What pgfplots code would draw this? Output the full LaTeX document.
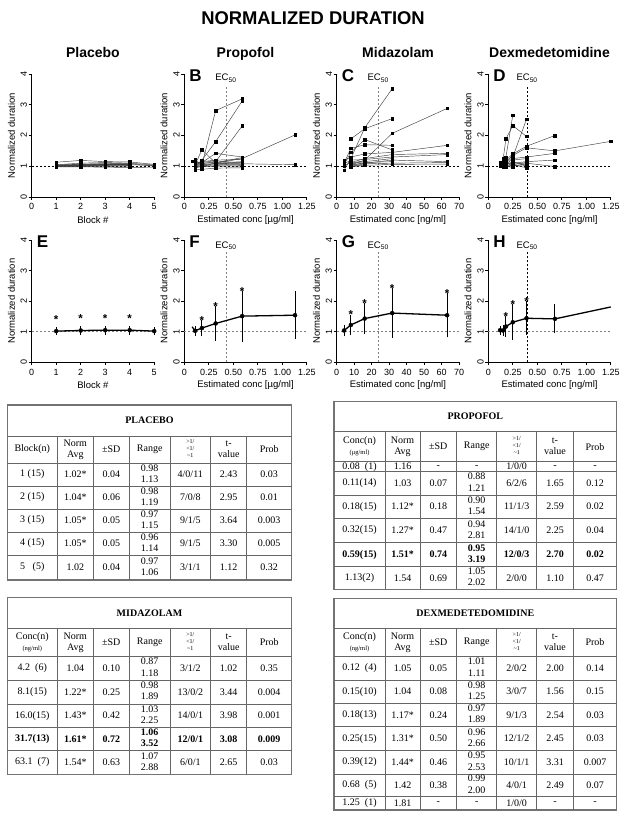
\documentclass[border=0pt]{standalone}
\usepackage{pgfplots}
\pgfplotsset{compat=1.18}
\usepackage{fontspec}
\setmainfont{Liberation Serif}
\newfontfamily\arial{Liberation Sans}
\newcommand\two[2]{\begin{tabular}{@{}c@{}}#1\\#2\end{tabular}}
\newcommand\hdr{{\fontsize{6}{7}\selectfont\begin{tabular}{@{}c@{}}>1/\\<1/\\\textasciitilde1\end{tabular}}}
\newcommand\unit[1]{{\fontsize{6.5}{7}\selectfont #1}}
\tikzset{cellf/.style={inner sep=0pt, font=\fontsize{10}{11.3}\selectfont},
  tabo/.style={black!55, line width=1.1pt},
  tabi/.style={black!60, line width=0.7pt}}
\newcommand\rowL[9][]{%
 \node[cellf,#1] at (32.3,817-#2) {#3};
 \node[cellf,#1] at (75.3,817-#2) {#4};
 \node[cellf,#1] at (111.3,817-#2) {#5};
 \node[cellf,#1] at (149.7,817-#2) {#6};
 \node[cellf,#1] at (190.3,817-#2) {#7};
 \node[cellf,#1] at (228.7,817-#2) {#8};
 \node[cellf,#1] at (269.2,817-#2) {#9};}
\newcommand\rowR[9][]{%
 \node[cellf,#1] at (359.5,817-#2) {#3};
 \node[cellf,#1] at (402.5,817-#2) {#4};
 \node[cellf,#1] at (438.3,817-#2) {#5};
 \node[cellf,#1] at (476.7,817-#2) {#6};
 \node[cellf,#1] at (516.7,817-#2) {#7};
 \node[cellf,#1] at (555,817-#2) {#8};
 \node[cellf,#1] at (595,817-#2) {#9};}
\pgfplotsset{
  pan/.style={
    scale only axis, width=122.5pt, height=123pt, anchor=south west,
    ymin=0, ymax=4, ytick={0,1,2,3,4},
    axis x line*=bottom, axis y line*=left,
    axis line style={-, line width=0.8pt, black},
    x axis line style={-}, y axis line style={-},
    tick align=outside, major tick length=3pt,
    tick style={black, line width=0.8pt},
    clip=false,
    /pgf/number format/assume math mode=true,
    tick label style={font=\arial\fontsize{9}{9}\selectfont},
    yticklabel style={rotate=90, anchor=south, inner sep=1.5pt},
    label style={font=\arial\fontsize{9.5}{10}\selectfont},
    ylabel={Normalized duration},
    ylabel style={at={(axis description cs:-0.165,0.5)}, anchor=center},
    xlabel style={at={(axis description cs:0.5,-0.185)}, anchor=center},
  },
  blockx/.style={xmin=0, xmax=5, xtick={0,1,2,3,4,5}, xlabel={Block \#}},
  ugx/.style={xmin=0, xmax=1.25, xtick={0,0.25,0.5,0.75,1,1.25}, xticklabels={0,0.25,0.50,0.75,1.00,1.25}, xlabel={Estimated conc [µg/ml]}},
  ngx/.style={xmin=0, xmax=70, xtick={0,10,20,30,40,50,60,70}, xlabel={Estimated conc [ng/ml]}},
  dngx/.style={xmin=0, xmax=1.25, xtick={0,0.25,0.5,0.75,1,1.25}, xticklabels={0,0.25,0.50,0.75,1.00,1.25}, xlabel={Estimated conc [ng/ml]}},
  subj/.style={black!75, line width=0.45pt, mark=square*, mark size=1.25pt, mark options={black,solid}},
  meanl/.style={black, line width=1.3pt, mark=none},
  ebar/.style={only marks, mark=none, error bars/.cd, y dir=both, y explicit, error bar style={black, line width=1pt}, error mark options={black, mark size=2.8pt, line width=1pt}},
  star/.style={only marks, mark=text, text mark={*}, text mark as node=true, text mark style={font=\arial\bfseries\fontsize{11.5}{11.5}\selectfont, inner sep=0pt}},
  oneline/.style={black, line width=0.5pt, dash pattern=on 2pt off 2pt, forget plot},
  onegray/.style={black!50, line width=0.6pt, dash pattern=on 2pt off 2pt, forget plot},
}
\newcommand\letter[1]{\node[font=\arial\bfseries\fontsize{17}{17}\selectfont, anchor=west, inner sep=0pt] at (rel axis cs:0.04,0.985) {#1};}
\newcommand\ec[2]{\node[font=\arial\fontsize{9.5}{10}\selectfont] at (axis cs:#1,#2) {EC\textsubscript{50}};}
\begin{document}
\begin{tikzpicture}
\fill[white] (0,0) rectangle (626pt,817pt);
\useasboundingbox (0,0) rectangle (626pt,817pt);

\begin{scope}[x=1pt,y=1pt]
\node[font=\arial\bfseries\fontsize{18.4}{19}\selectfont, anchor=base] at (313,817-24.6) {NORMALIZED DURATION};
\node[font=\arial\bfseries\fontsize{14}{14}\selectfont, anchor=base] at (92.9,817-57.8) {Placebo};
\node[font=\arial\bfseries\fontsize{14}{14}\selectfont, anchor=base] at (245.5,817-57.8) {Propofol};
\node[font=\arial\bfseries\fontsize{14}{14}\selectfont, anchor=base] at (398,817-57.8) {Midazolam};
\node[font=\arial\bfseries\fontsize{14}{14}\selectfont, anchor=base] at (549.5,817-57.8) {Dexmedetomidine};
\end{scope}

% ---------------- Row 1 ----------------
\begin{axis}[pan, blockx, at={(31.7pt,620pt)}]
\addplot[oneline] coordinates {(0,1) (5,1)};
\addplot[subj] coordinates {(1,1.13)(2,1.19)(3,1.15)(4,1.14)(5,1.06)};
\addplot[subj] coordinates {(1,1.02)(2,1.05)(3,1.06)(4,1.05)(5,1.02)};
\addplot[subj] coordinates {(1,0.98)(2,0.98)(3,0.97)(4,0.96)(5,0.97)};
\addplot[subj] coordinates {(1,1.00)(2,1.02)(3,1.05)(4,1.08)(5,1.01)};
\addplot[subj] coordinates {(1,1.05)(2,1.10)(3,1.12)(4,1.10)(5,1.04)};
\addplot[subj] coordinates {(1,1.01)(2,1.03)(3,1.04)(4,1.06)};
\addplot[subj] coordinates {(1,0.99)(2,1.00)(3,1.02)(4,1.00)};
\addplot[subj] coordinates {(1,1.03)(2,1.06)(3,1.08)(4,1.07)};
\addplot[subj] coordinates {(1,1.00)(2,1.01)(3,1.03)(4,1.04)};
\addplot[subj] coordinates {(1,1.02)(2,1.04)(3,1.06)(4,1.05)};
\addplot[subj] coordinates {(1,1.00)(2,1.02)(3,1.04)(4,1.03)};
\addplot[subj] coordinates {(1,1.01)(2,1.03)(3,1.05)(4,1.06)};
\addplot[subj] coordinates {(1,1.04)(2,1.07)(3,1.08)(4,1.09)};
\addplot[subj] coordinates {(1,1.00)(2,1.00)(3,0.99)(4,1.02)};
\addplot[subj] coordinates {(1,1.02)(2,1.03)(3,1.05)(4,1.04)};
\end{axis}

\begin{axis}[pan, ugx, at={(184.3pt,620pt)}]
\addplot[oneline] coordinates {(0,1) (1.25,1)};
\addplot[onegray] coordinates {(0.425,0) (0.425,3.62)};
\addplot[subj] coordinates {(0.11,1.02)(0.18,1.05)(0.32,2.81)(0.59,3.19)};
\addplot[subj] coordinates {(0.11,1.00)(0.18,1.20)(0.32,1.80)(0.59,3.12)};
\addplot[subj] coordinates {(0.11,1.05)(0.18,1.08)(0.32,1.15)(0.59,2.31)};
\addplot[subj] coordinates {(0.11,1.05)(0.18,1.54)(0.32,1.10)(0.59,1.25)(1.13,2.02)};
\addplot[subj] coordinates {(0.11,1.10)(0.18,1.12)(0.32,1.42)(0.59,1.30)};
\addplot[subj] coordinates {(0.11,0.95)(0.18,1.00)(0.32,1.10)(0.59,1.08)(1.13,1.05)};
\addplot[subj] coordinates {(0.08,1.16)(0.18,1.10)(0.32,1.12)(0.59,1.28)};
\addplot[subj] coordinates {(0.11,0.88)(0.18,0.90)(0.32,0.94)(0.59,0.95)};
\addplot[subj] coordinates {(0.11,1.00)(0.18,1.02)(0.32,1.05)(0.59,1.05)};
\addplot[subj] coordinates {(0.11,1.03)(0.18,1.06)(0.32,1.08)(0.59,1.12)};
\addplot[subj] coordinates {(0.11,0.98)(0.18,1.00)(0.32,1.02)(0.59,1.00)};
\addplot[subj] coordinates {(0.11,1.08)(0.18,1.15)(0.32,1.20)(0.59,1.22)};
\addplot[subj] coordinates {(0.11,1.21)(0.18,1.04)(0.32,1.10)(0.59,1.15)};
\addplot[subj] coordinates {(0.11,0.97)(0.18,0.98)(0.32,1.00)(0.59,1.02)};
\addplot[subj] coordinates {(0.11,1.06)(0.18,1.12)(0.32,1.18)(0.59,1.10)};
\letter{B}
\ec{0.425}{3.87}
\end{axis}

\begin{axis}[pan, ngx, at={(336.7pt,620pt)}]
\addplot[oneline] coordinates {(0,1) (70,1)};
\addplot[onegray] coordinates {(23.7,0) (23.7,3.62)};
\addplot[subj] coordinates {(4.2,0.87)(8.1,1.25)(16,2.25)(31.7,3.52)};
\addplot[subj] coordinates {(8.1,1.89)(16,2.22)(31.7,2.55)};
\addplot[subj] coordinates {(8.1,1.05)(16,1.20)(31.7,2.07)(63.1,2.88)};
\addplot[subj] coordinates {(4.2,1.05)(8.1,1.45)(16,1.87)(31.7,1.53)};
\addplot[subj] coordinates {(4.2,1.10)(8.1,1.58)(16,1.70)(31.7,1.68)};
\addplot[subj] coordinates {(4.2,1.18)(8.1,1.30)(16,1.40)(31.7,1.45)(63.1,1.68)};
\addplot[subj] coordinates {(4.2,1.02)(8.1,1.12)(16,1.25)(31.7,1.38)(63.1,1.42)};
\addplot[subj] coordinates {(4.2,1.08)(8.1,1.20)(16,1.22)(31.7,1.30)(63.1,1.38)};
\addplot[subj] coordinates {(8.1,1.05)(16,1.10)(31.7,1.20)(63.1,1.15)};
\addplot[subj] coordinates {(8.1,1.00)(16,1.08)(31.7,1.10)(63.1,1.12)};
\addplot[subj] coordinates {(8.1,0.98)(16,1.03)(31.7,1.06)(63.1,1.07)};
\addplot[subj] coordinates {(8.1,1.08)(16,1.15)(31.7,1.25)};
\addplot[subj] coordinates {(8.1,1.02)(16,1.12)(31.7,1.15)};
\addplot[subj] coordinates {(8.1,1.10)(16,1.18)};
\addplot[subj] coordinates {(8.1,1.00)(16,1.05)};
\letter{C}
\ec{23.7}{3.87}
\end{axis}

\begin{axis}[pan, dngx, at={(488.3pt,620pt)}]
\addplot[oneline] coordinates {(0,1) (1.25,1)};
\addplot[oneline] coordinates {(0.396,0) (0.396,3.62)};
\addplot[subj] coordinates {(0.15,1.10)(0.18,1.30)(0.25,2.66)};
\addplot[subj] coordinates {(0.12,1.05)(0.15,1.20)(0.18,1.89)(0.25,2.32)(0.39,1.97)};
\addplot[subj] coordinates {(0.18,1.10)(0.25,1.30)(0.39,2.53)};
\addplot[subj] coordinates {(0.12,1.11)(0.15,1.05)(0.18,1.20)(0.25,1.40)(0.39,1.65)(0.68,2.00)};
\addplot[subj] coordinates {(0.15,1.00)(0.18,1.15)(0.25,1.35)(0.39,1.60)(0.68,1.50)(1.25,1.81)};
\addplot[subj] coordinates {(0.12,1.02)(0.15,1.00)(0.18,1.05)(0.25,1.25)(0.39,1.30)(0.68,1.42)};
\addplot[subj] coordinates {(0.15,0.98)(0.18,1.00)(0.25,1.10)(0.39,1.15)(0.68,1.20)};
\addplot[subj] coordinates {(0.15,1.05)(0.18,1.08)(0.25,1.10)(0.39,1.10)(0.68,0.99)};
\addplot[subj] coordinates {(0.12,1.01)(0.15,1.02)(0.18,1.05)(0.25,1.15)(0.39,1.00)};
\addplot[subj] coordinates {(0.15,1.25)(0.18,0.97)(0.25,1.05)(0.39,0.95)};
\addplot[subj] coordinates {(0.18,1.02)(0.25,1.00)(0.39,1.08)};
\addplot[subj] coordinates {(0.18,1.10)(0.25,1.05)(0.39,1.12)};
\addplot[subj] coordinates {(0.18,1.00)(0.25,0.96)};
\addplot[subj] coordinates {(0.25,1.02)(0.39,1.05)};
\addplot[subj] coordinates {(0.25,1.20)(0.39,1.25)};
\letter{D}
\ec{0.396}{3.87}
\end{axis}

% ---------------- Row 2 ----------------
\begin{axis}[pan, blockx, height=122.3pt, at={(31.7pt,454.7pt)}]
\addplot[onegray] coordinates {(0,1) (5,1)};
\addplot[meanl] coordinates {(1,1.02)(2,1.04)(3,1.05)(4,1.05)(5,1.02)};
\addplot[ebar] coordinates {(1,1.02)+-(0,0.04) (2,1.04)+-(0,0.06) (3,1.05)+-(0,0.05) (4,1.05)+-(0,0.05) (5,1.02)+-(0,0.04)};
\addplot[star] coordinates {(1,1.40)(2,1.42)(3,1.43)(4,1.43)};
\letter{E}
\end{axis}

\begin{axis}[pan, ugx, height=122.3pt, at={(184.3pt,454.7pt)}]
\addplot[onegray] coordinates {(0,1) (1.25,1)};
\addplot[onegray] coordinates {(0.425,0) (0.425,3.62)};
\addplot[meanl] coordinates {(0.08,1.16)(0.11,1.03)(0.18,1.12)(0.32,1.27)(0.59,1.51)(1.13,1.54)};
\addplot[ebar] coordinates {(0.11,1.03)+-(0,0.07) (0.18,1.12)+-(0,0.18) (0.32,1.27)+-(0,0.47) (0.59,1.51)+-(0,0.74) (1.13,1.54)+-(0,0.69)};
\addplot[star] coordinates {(0.18,1.38)(0.32,1.82)(0.59,2.33)};
\letter{F}
\ec{0.425}{3.82}
\end{axis}

\begin{axis}[pan, ngx, height=122.3pt, at={(336.7pt,454.7pt)}]
\addplot[onegray] coordinates {(0,1) (70,1)};
\addplot[onegray] coordinates {(23.7,0) (23.7,3.62)};
\addplot[meanl] coordinates {(4.2,1.04)(8.1,1.22)(16,1.43)(31.7,1.61)(63.1,1.54)};
\addplot[ebar] coordinates {(4.2,1.04)+-(0,0.10) (8.1,1.22)+-(0,0.25) (16,1.43)+-(0,0.42) (31.7,1.61)+-(0,0.72) (63.1,1.54)+-(0,0.63)};
\addplot[star] coordinates {(8.1,1.55)(16,1.93)(31.7,2.41)(63.1,2.25)};
\letter{G}
\ec{23.7}{3.82}
\end{axis}

\begin{axis}[pan, dngx, height=122.3pt, at={(488.3pt,454.7pt)}]
\addplot[onegray] coordinates {(0,1) (1.25,1)};
\addplot[oneline] coordinates {(0.396,0) (0.396,3.62)};
\addplot[meanl] coordinates {(0.12,1.05)(0.15,1.04)(0.18,1.17)(0.25,1.31)(0.39,1.44)(0.68,1.42)(1.25,1.81)};
\addplot[ebar] coordinates {(0.12,1.05)+-(0,0.05) (0.15,1.04)+-(0,0.08) (0.18,1.17)+-(0,0.24) (0.25,1.31)+-(0,0.50) (0.39,1.44)+-(0,0.46) (0.68,1.42)+-(0,0.38)};
\addplot[star] coordinates {(0.18,1.49)(0.25,1.89)(0.39,1.98)};
\letter{H}
\ec{0.396}{3.82}
\end{axis}

% ---------------- Tables ----------------
\begin{scope}[x=1pt,y=1pt]
% Placebo
\draw[tabo] (7.3,817-405) rectangle (291.7,817-580);
\foreach \y in {436,463,486,509,532,555} \draw[tabi] (7.3,817-\y) -- (291.7,817-\y);
\foreach \x in {57.3,93.3,129.3,170,210.7,246.7} \draw[tabi] (\x,817-436) -- (\x,817-580);
\node[font=\bfseries\fontsize{10}{11}\selectfont] at (149.5,817-420.5) {PLACEBO};
\rowL{449.5}{Block(n)}{\two{Norm}{Avg}}{±SD}{Range}{\hdr}{\two{t-}{value}}{Prob}
\rowL{474.5}{1 (15)}{1.02*}{0.04}{\two{0.98}{1.13}}{4/0/11}{2.43}{0.03}
\rowL{497.5}{2 (15)}{1.04*}{0.06}{\two{0.98}{1.19}}{7/0/8}{2.95}{0.01}
\rowL{520.5}{3 (15)}{1.05*}{0.05}{\two{0.97}{1.15}}{9/1/5}{3.64}{0.003}
\rowL{543.5}{4 (15)}{1.05*}{0.05}{\two{0.96}{1.14}}{9/1/5}{3.30}{0.005}
\rowL{567.5}{5\ \ \ (5)}{1.02}{0.04}{\two{0.97}{1.06}}{3/1/1}{1.12}{0.32}
% Midazolam
\draw[tabo] (7.3,817-597.7) rectangle (291.7,817-774.3);
\foreach \y in {628.3,656.7,680,704,727.3,750.7} \draw[tabi] (7.3,817-\y) -- (291.7,817-\y);
\foreach \x in {57.3,93.3,129.3,170,210.7,246.7} \draw[tabi] (\x,817-628.3) -- (\x,817-774.3);
\node[font=\bfseries\fontsize{10}{11}\selectfont] at (149.5,817-613) {MIDAZOLAM};
\rowL{642.5}{\two{Conc(n)}{\unit{(ng/ml)}}}{\two{Norm}{Avg}}{±SD}{Range}{\hdr}{\two{t-}{value}}{Prob}
\rowL{668.3}{4.2\ \ (6)}{1.04}{0.10}{\two{0.87}{1.18}}{3/1/2}{1.02}{0.35}
\rowL{692}{8.1(15)}{1.22*}{0.25}{\two{0.98}{1.89}}{13/0/2}{3.44}{0.004}
\rowL{715.7}{16.0(15)}{1.43*}{0.42}{\two{1.03}{2.25}}{14/0/1}{3.98}{0.001}
\rowL[font=\bfseries\fontsize{10}{11.3}\selectfont]{739}{31.7(13)}{1.61*}{0.72}{\two{1.06}{3.52}}{12/0/1}{3.08}{0.009}
\rowL{762.5}{63.1\ \ (7)}{1.54*}{0.63}{\two{1.07}{2.88}}{6/0/1}{2.65}{0.03}
% Propofol
\draw[tabo] (334,817-401.7) rectangle (616.7,817-589.3);
\foreach \y in {431.5,461.7,471.7,495,518.3,542.7,566.7} \draw[tabi] (334,817-\y) -- (616.7,817-\y);
\foreach \x in {385,420,456.7,496.7,536.7,573.3} \draw[tabi] (\x,817-431.5) -- (\x,817-589.3);
\node[font=\bfseries\fontsize{10}{11}\selectfont] at (475.3,817-416.6) {PROPOFOL};
\rowR{446.6}{\two{Conc(n)}{\unit{(µg/ml)}}}{\two{Norm}{Avg}}{±SD}{Range}{\hdr}{\two{t-}{value}}{Prob}
\rowR{466.7}{0.08\ \ (1)}{1.16}{-}{-}{1/0/0}{-}{-}
\rowR{483.3}{0.11(14)}{1.03}{0.07}{\two{0.88}{1.21}}{6/2/6}{1.65}{0.12}
\rowR{506.7}{0.18(15)}{1.12*}{0.18}{\two{0.90}{1.54}}{11/1/3}{2.59}{0.02}
\rowR{530.5}{0.32(15)}{1.27*}{0.47}{\two{0.94}{2.81}}{14/1/0}{2.25}{0.04}
\rowR[font=\bfseries\fontsize{10}{11.3}\selectfont]{554.7}{0.59(15)}{1.51*}{0.74}{\two{0.95}{3.19}}{12/0/3}{2.70}{0.02}
\rowR{578}{1.13(2)}{1.54}{0.69}{\two{1.05}{2.02}}{2/0/0}{1.10}{0.47}
% Dexmedetomidine
\draw[tabo] (334,817-598.3) rectangle (616.7,817-810);
\foreach \y in {628.3,656.7,680,703.3,726.7,750.7,774,796.7} \draw[tabi] (334,817-\y) -- (616.7,817-\y);
\foreach \x in {385,420,456.7,496.7,536.7,573.3} \draw[tabi] (\x,817-628.3) -- (\x,817-810);
\node[font=\bfseries\fontsize{10}{11}\selectfont] at (475.3,817-613.3) {DEXMEDETEDOMIDINE};
\rowR{642.5}{\two{Conc(n)}{\unit{(ng/ml)}}}{\two{Norm}{Avg}}{±SD}{Range}{\hdr}{\two{t-}{value}}{Prob}
\rowR{668.3}{0.12\ \ (4)}{1.05}{0.05}{\two{1.01}{1.11}}{2/0/2}{2.00}{0.14}
\rowR{691.7}{0.15(10)}{1.04}{0.08}{\two{0.98}{1.25}}{3/0/7}{1.56}{0.15}
\rowR{715}{0.18(13)}{1.17*}{0.24}{\two{0.97}{1.89}}{9/1/3}{2.54}{0.03}
\rowR{738.7}{0.25(15)}{1.31*}{0.50}{\two{0.96}{2.66}}{12/1/2}{2.45}{0.03}
\rowR{762.3}{0.39(12)}{1.44*}{0.46}{\two{0.95}{2.53}}{10/1/1}{3.31}{0.007}
\rowR{785.3}{0.68\ \ (5)}{1.42}{0.38}{\two{0.99}{2.00}}{4/0/1}{2.49}{0.07}
\rowR{803.3}{1.25\ \ (1)}{1.81}{-}{-}{1/0/0}{-}{-}
\end{scope}
\end{tikzpicture}
\end{document}
